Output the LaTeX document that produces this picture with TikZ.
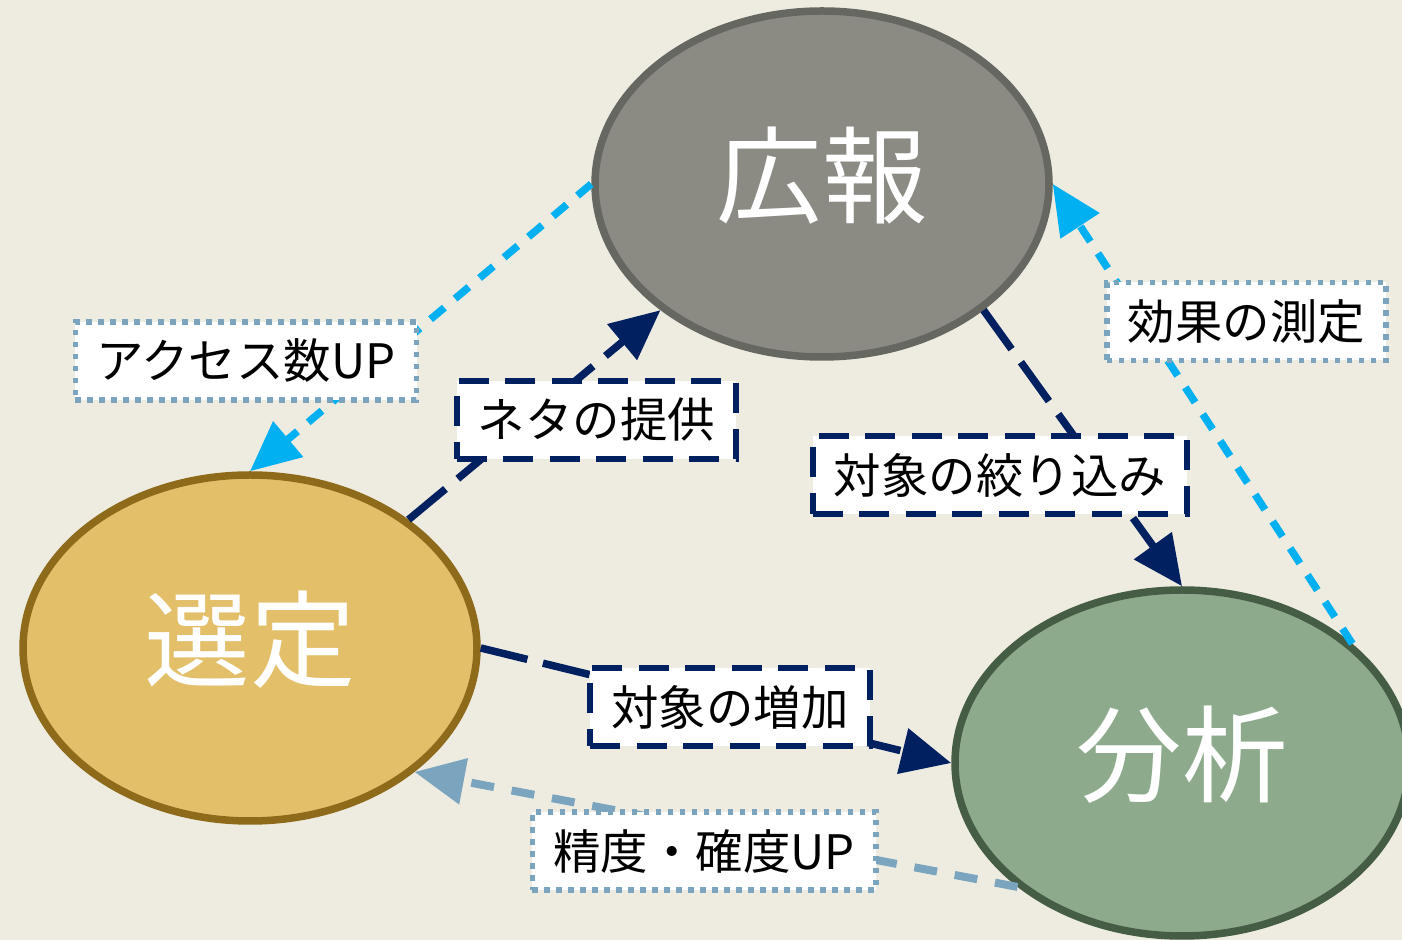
\documentclass[tikz,border=0pt]{standalone}
\usepackage{fontspec}
\setmainfont{Noto Sans CJK JP}
\usepackage{tikz}
\usetikzlibrary{shapes,arrows.meta}
\definecolor{bgtan}{HTML}{EEECE1}
\definecolor{navy}{HTML}{002060}
\definecolor{skyline}{HTML}{00B0F0}
\definecolor{steel}{HTML}{7BA5BF}
\definecolor{grayfill}{HTML}{8B8B84}
\definecolor{graydraw}{HTML}{676762}
\definecolor{goldfill}{HTML}{E4BF69}
\definecolor{golddraw}{HTML}{8E6B1B}
\definecolor{greenfill}{HTML}{8DAA8C}
\definecolor{greendraw}{HTML}{455D45}
\tikzstyle{phase}     = [ellipse, minimum width=9.08cm, minimum height=6.92cm, inner sep=0pt, line width=0.15cm, text=white, text height=1.75cm, text depth=0.5cm, font=\fontsize{60}{60}\selectfont]
\tikzstyle{tag}       = [rectangle, fill=white, text=black, minimum height=1.56cm, inner xsep=0.42cm, font=\fontsize{27}{27}\selectfont]
\tikzstyle{tagdash}   = [tag, draw=navy, line width=0.12cm, dash pattern=on 0.6cm off 0.33cm]
\tikzstyle{tagdot}    = [tag, draw=steel, line width=0.11cm, dash pattern=on 0.11cm off 0.13cm]
\tikzstyle{feed}      = [line width=0.15cm, -{Triangle[length=1cm,width=0.9cm]}]
\tikzstyle{feednavy}  = [feed, navy, dash pattern=on 0.96cm off 0.32cm]
\tikzstyle{feedsky}   = [feed, skyline, dash pattern=on 0.36cm off 0.28cm]
\tikzstyle{feedsteel} = [feed, steel, line width=0.16cm, dash pattern=on 0.46cm off 0.36cm]

\begin{document}
\begin{tikzpicture}
		\useasboundingbox (0,0) rectangle (28.04,18.8);
		\fill[bgtan] (0,0) rectangle (28.04,18.8);

		\node[phase, draw=graydraw, fill=grayfill] (kouhou) at (16.44,15.12) {広報};
		\node[phase, draw=golddraw, fill=goldfill] (sentei) at (5.0,5.84) {選定};
		\node[phase, draw=greendraw, fill=greenfill] (bunseki) at (23.64,3.54) {分析};

		\draw[feedsky] (kouhou.180) -- (sentei.90);
		\draw[feednavy] (sentei.39) -- (kouhou.218);
		\draw[feednavy] (kouhou.322) -- (bunseki.90);
		\draw[feedsky] (bunseki.35) -- (kouhou.0);
		\draw[feednavy] (sentei.0) -- (bunseki.180);
		\draw[feedsteel] (bunseki.217) -- (sentei.323);

		\node[tagdot] (access) at (4.92,11.58) {アクセス数UP};
		\node[tagdash] (neta) at (11.93,10.4) {ネタの提供};
		\node[tagdash] (shibori) at (20.0,9.3) {対象の絞り込み};
		\node[tagdot] (kouka) at (24.93,12.37) {効果の測定};
		\node[tagdash] (zouka) at (14.6,4.66) {対象の増加};
		\node[tagdot] (seido) at (14.08,1.78) {精度・確度UP};
	\end{tikzpicture}
\end{document}
